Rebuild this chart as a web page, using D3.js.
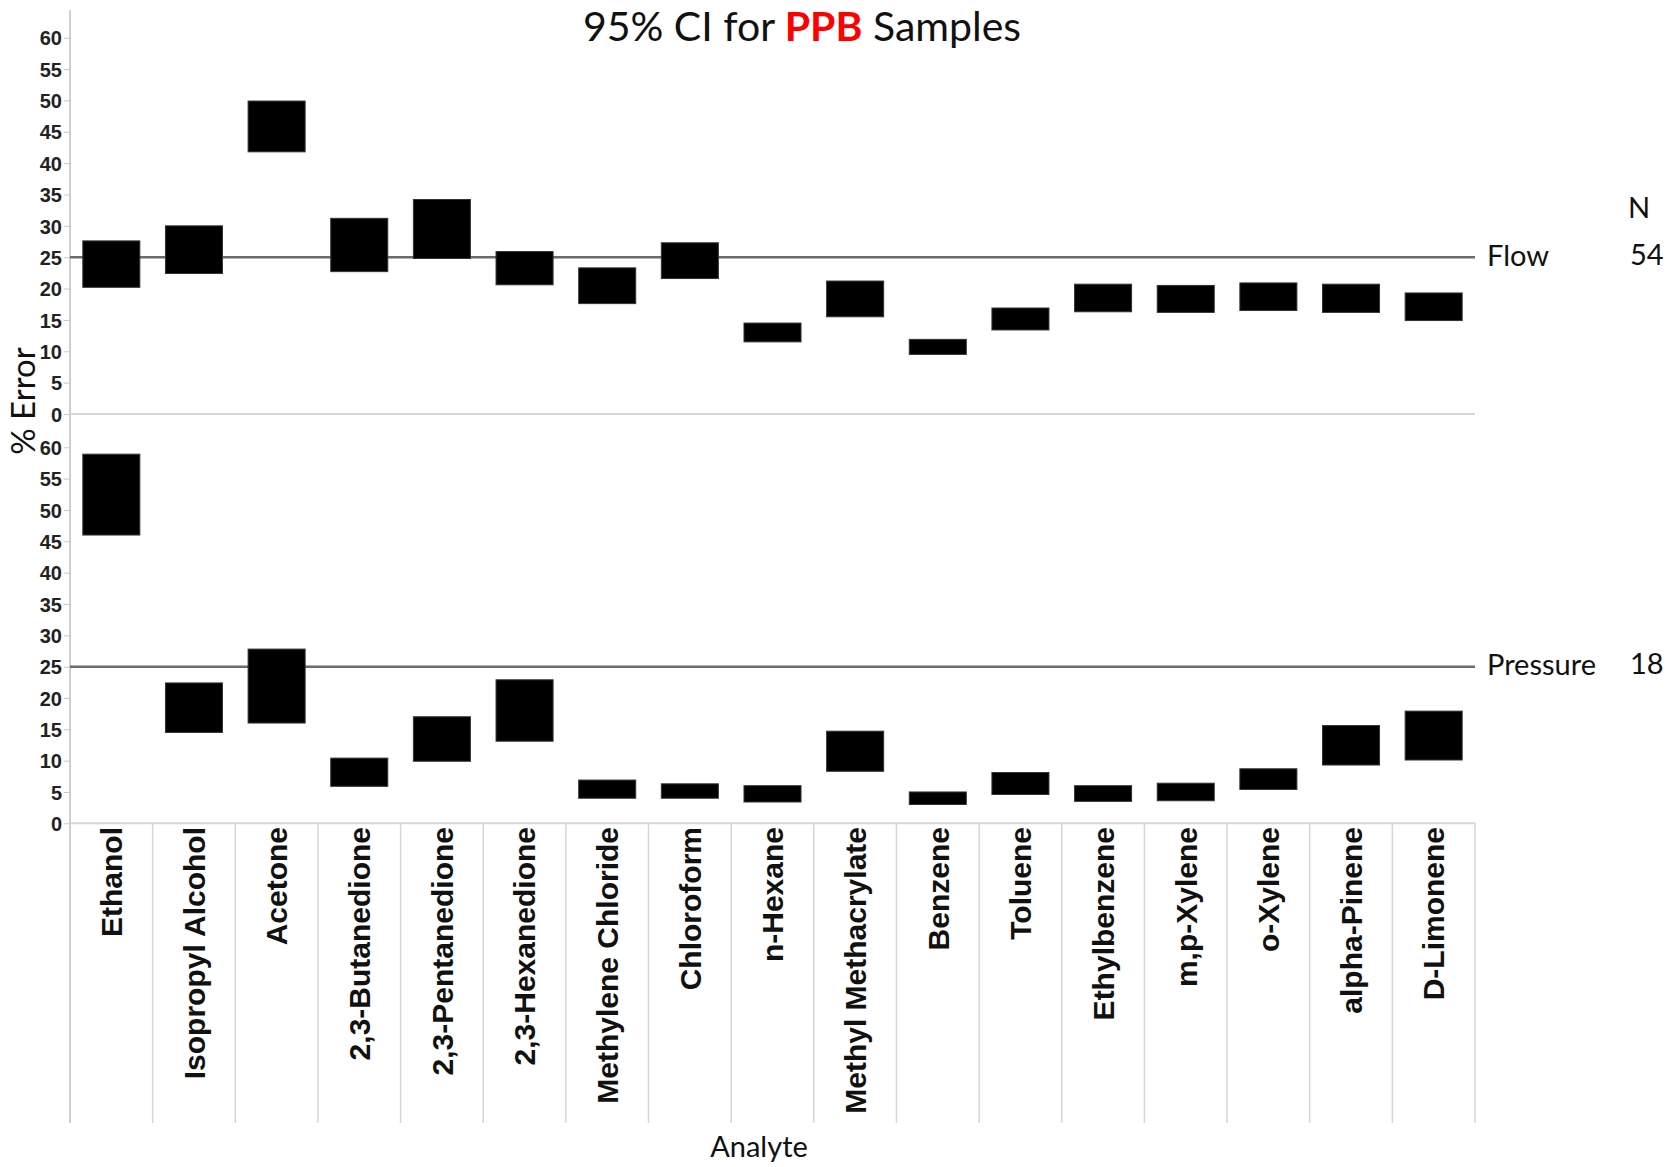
<!DOCTYPE html>
<html>
<head>
<meta charset="utf-8">
<script src="https://cdn.jsdelivr.net/npm/d3@7"></script>
<style>
  body { margin: 0; background: #fff; }
  svg { display: block; }
  .tick-label { font-family: "Liberation Sans", Arial, sans-serif; font-weight: bold; font-size: 20px; fill: #222; }
  .cat-label { font-family: "Liberation Sans", Arial, sans-serif; font-weight: bold; font-size: 30px; fill: #111; }
  .plain { font-family: Lato, "Open Sans", sans-serif; fill: #111; }
</style>
</head>
<body>
<svg id="chart" width="1677" height="1167"></svg>
<script>

// analytes along the x axis
var analytes = ["Ethanol", "Isopropyl Alcohol", "Acetone", "2,3-Butanedione", "2,3-Pentanedione",
  "2,3-Hexanedione", "Methylene Chloride", "Chloroform", "n-Hexane", "Methyl Methacrylate",
  "Benzene", "Toluene", "Ethylbenzene", "m,p-Xylene", "o-Xylene", "alpha-Pinene", "D-Limonene"];

// 95% CI bounds, % error - Flow samples
var flowLow  = [20.2, 22.4, 41.8, 22.7, 24.8, 20.6, 17.6, 21.6, 11.5, 15.5, 9.5, 13.4, 16.3, 16.2, 16.5, 16.2, 14.9];
var flowHigh = [27.6, 30.0, 49.9, 31.2, 34.2, 25.9, 23.3, 27.3, 14.5, 21.2, 11.9, 16.9, 20.7, 20.5, 20.9, 20.7, 19.3];

// 95% CI bounds, % error - Pressure samples
var pressureLow  = [46.0, 14.5, 16.0, 5.9, 9.9, 13.1, 4.0, 4.0, 3.4, 8.3, 3.0, 4.6, 3.5, 3.6, 5.4, 9.3, 10.1];
var pressureHigh = [58.9, 22.4, 27.8, 10.4, 17.0, 22.9, 6.9, 6.3, 6.0, 14.7, 5.0, 8.1, 6.0, 6.4, 8.7, 15.6, 17.9];

var methods = ["Flow", "Pressure"];
var nValues = [54, 18];
var refValue = 25;
var yTicks = [0, 5, 10, 15, 20, 25, 30, 35, 40, 45, 50, 55, 60];

var svg = d3.select("#chart");

var left = 70, right = 1475;
var axisBottom = 823, labelBottom = 1123;

var x = d3.scaleBand()
  .domain(analytes)
  .range([left, right])
  .padding(0);

var boxW = x.bandwidth() * 0.69;

// one y scale per panel
var panels = [
  { name: methods[0], n: nValues[0], low: flowLow, high: flowHigh,
    y: d3.scaleLinear().domain([0, 60]).range([414, 37.7]) },
  { name: methods[1], n: nValues[1], low: pressureLow, high: pressureHigh,
    y: d3.scaleLinear().domain([0, 60]).range([823.3, 447.3]) }
];

// title
var title = svg.append("text")
  .attr("class", "plain")
  .attr("x", 802)
  .attr("y", 41)
  .attr("text-anchor", "middle")
  .style("font-size", "41px");
title.append("tspan").text("95% CI for ");
title.append("tspan").text("PPB").style("font-weight", "bold").style("fill", "#ff0000");
title.append("tspan").text(" Samples");

// category grid below the lower panel
svg.append("g")
  .selectAll("line")
  .data(d3.range(analytes.length + 1))
  .enter().append("line")
  .attr("x1", function(i) { return left + i * x.bandwidth(); })
  .attr("x2", function(i) { return left + i * x.bandwidth(); })
  .attr("y1", axisBottom)
  .attr("y2", labelBottom)
  .attr("stroke", "#d6d6d6")
  .attr("stroke-width", 1.5);

// y axis line
svg.append("line")
  .attr("x1", left).attr("x2", left)
  .attr("y1", 10).attr("y2", labelBottom)
  .attr("stroke", "#cfcfcf")
  .attr("stroke-width", 2);

panels.forEach(function(p) {

  var g = svg.append("g");

  // zero line
  g.append("line")
    .attr("x1", left).attr("x2", right)
    .attr("y1", p.y(0)).attr("y2", p.y(0))
    .attr("stroke", "#d6d6d6")
    .attr("stroke-width", 2);

  var yAxis = d3.axisLeft(p.y)
    .tickValues(yTicks)
    .tickSize(6)
    .tickPadding(2);

  var ax = g.append("g")
    .attr("transform", "translate(" + left + ",0)")
    .call(yAxis);
  ax.select(".domain").remove();
  ax.selectAll(".tick line").attr("stroke", "#c8c8c8");
  ax.selectAll(".tick text")
    .attr("class", "tick-label")
    .attr("dy", "0.36em");

  // reference line at 25%
  g.append("line")
    .attr("x1", left).attr("x2", right)
    .attr("y1", p.y(refValue)).attr("y2", p.y(refValue))
    .attr("stroke", "#6b6b6b")
    .attr("stroke-width", 2.5);

  g.append("text")
    .attr("class", "plain")
    .attr("x", 1487)
    .attr("y", p.y(refValue) - 3)
    .attr("dominant-baseline", "central")
    .style("font-size", "29px")
    .text(p.name);

  g.append("text")
    .attr("class", "plain")
    .attr("x", 1630)
    .attr("y", p.y(refValue) - 4)
    .attr("dominant-baseline", "central")
    .style("font-size", "29px")
    .text(p.n);

  // CI boxes
  g.selectAll("rect")
    .data(analytes)
    .enter().append("rect")
    .attr("x", function(d) { return x(d) + (x.bandwidth() - boxW) / 2; })
    .attr("width", boxW)
    .attr("y", function(d, i) { return p.y(p.high[i]); })
    .attr("height", function(d, i) { return p.y(p.low[i]) - p.y(p.high[i]); })
    .attr("fill", "#000")
    .attr("stroke", "#333")
    .attr("stroke-width", 1);
});

// N header
svg.append("text")
  .attr("class", "plain")
  .attr("x", 1628)
  .attr("y", 206)
  .attr("dominant-baseline", "central")
  .style("font-size", "29px")
  .text("N");

// analyte labels
svg.append("g")
  .selectAll("text")
  .data(analytes)
  .enter().append("text")
  .attr("class", "cat-label")
  .attr("transform", function(d) {
    return "translate(" + (x(d) + x.bandwidth() / 2) + "," + (axisBottom + 4) + ") rotate(-90)";
  })
  .attr("text-anchor", "end")
  .attr("dy", "0.36em")
  .text(function(d) { return d; });

// axis titles
svg.append("text")
  .attr("class", "plain")
  .attr("transform", "translate(35,401) rotate(-90)")
  .attr("text-anchor", "middle")
  .style("font-size", "33px")
  .text("% Error");

svg.append("text")
  .attr("class", "plain")
  .attr("x", 759)
  .attr("y", 1157)
  .attr("text-anchor", "middle")
  .style("font-size", "29px")
  .text("Analyte");

</script>
</body>
</html>
